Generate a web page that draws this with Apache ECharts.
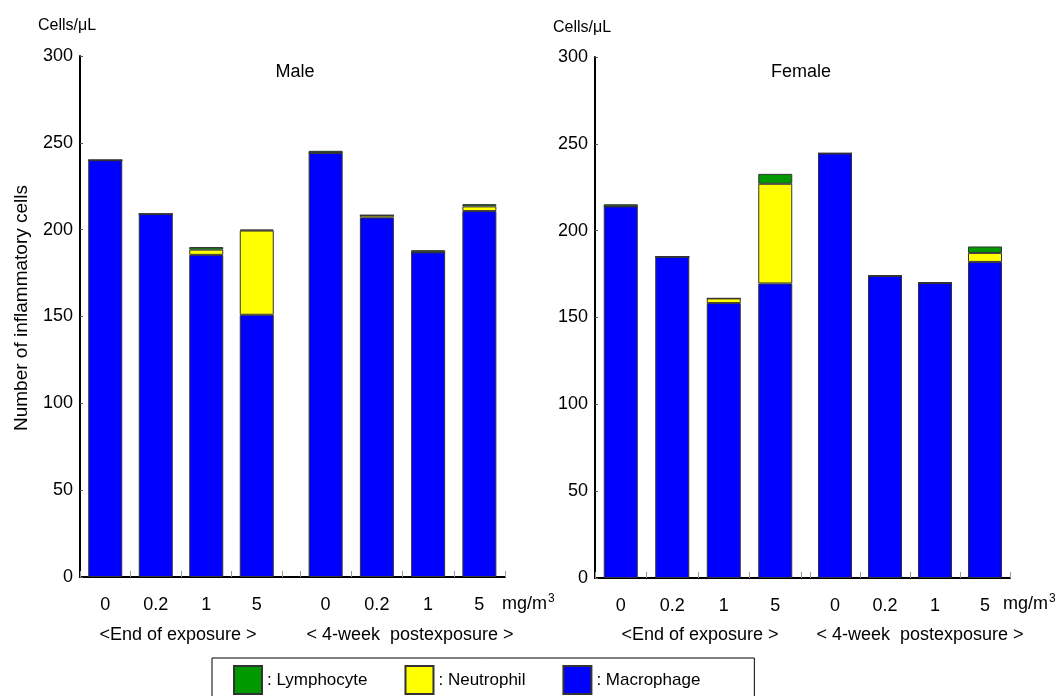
<!DOCTYPE html>
<html>
<head>
<meta charset="utf-8">
<script src="https://cdn.jsdelivr.net/npm/echarts@6/dist/echarts.min.js"></script>
<style>html,body{margin:0;padding:0;background:#fff}#c{width:1058px;height:696px}</style>
</head>
<body>
<div id="c"></div>
<script>
// ---- data ----
const doses = ['0', '0.2', '1', '5'];
const yTicks = [0, 50, 100, 150, 200, 250, 300];
const seriesNames = ['Macrophage', 'Neutrophil', 'Lymphocyte'];
const groupLabels = ['<End of exposure >', '< 4-week  postexposure >'];
const panelTitles = ['Male', 'Female'];

const maleEndMac  = [240, 209, 185.5, 151];
const maleEndNeu  = [0, 0, 3, 48.5];
const maleEndLym  = [0, 0, 1.5, 0.5];
const malePostMac = [244.2, 207, 187, 210.7];
const malePostNeu = [0, 1.3, 0, 2.7];
const malePostLym = [1.2, 0, 1.2, 1.3];

const femEndMac  = [214, 185, 158.3, 169.6];
const femEndNeu  = [0, 0, 2.7, 57.4];
const femEndLym  = [1.2, 0, 0, 5.7];
const femPostMac = [244.5, 174, 170, 182];
const femPostNeu = [0, 0, 0, 5.2];
const femPostLym = [0, 0, 0, 3.7];

// ---- layout ----
const FONT = 'Liberation Sans, Arial, sans-serif';
const colors = { Macrophage: '#0000ff', Neutrophil: '#ffff00', Lymphocyte: '#009a00' };

const grids = [
  { left: 80,  top: 56, width: 202, height: 521 },   // male end
  { left: 282, top: 56, width: 18,  height: 521 },   // male gap
  { left: 300, top: 56, width: 205, height: 521 },   // male post
  { left: 595, top: 57, width: 206, height: 521 },   // female end
  { left: 801, top: 57, width: 9,   height: 521 },   // female gap
  { left: 810, top: 57, width: 200, height: 521 }    // female post
];

const panels = [
  { grid: 0, data: [maleEndMac, maleEndNeu, maleEndLym] },
  { grid: 2, data: [malePostMac, malePostNeu, malePostLym] },
  { grid: 3, data: [femEndMac, femEndNeu, femEndLym] },
  { grid: 5, data: [femPostMac, femPostNeu, femPostLym] }
];

const xAxes = grids.map((g, i) => {
  const isGap = (i === 1 || i === 4);
  return {
    type: 'category', gridIndex: i,
    data: isGap ? [''] : doses,
    boundaryGap: true,
    axisLine: { show: true, lineStyle: { color: '#000', width: 2 } },
    axisTick: { show: !(i === 4), inside: true, length: 6, lineStyle: { color: '#999', width: 1 } },
    axisLabel: { show: !isGap, color: '#000', fontSize: 18, fontFamily: FONT, margin: 19 }
  };
});

const yAxes = grids.map((g, i) => {
  const show = (i === 0 || i === 3);
  return {
    type: 'value', gridIndex: i, min: 0, max: 300, interval: 50,
    show: show,
    splitLine: { show: false },
    axisLine: { show: true, lineStyle: { color: '#000', width: 2 } },
    axisTick: { show: true, inside: true, length: 3, lineStyle: { color: '#555' } },
    axisLabel: { color: '#000', fontSize: 18, fontFamily: FONT, margin: 7 }
  };
});

const series = [];
panels.forEach((p, pi) => {
  seriesNames.forEach((name, si) => {
    series.push({
      type: 'bar', name: name,
      xAxisIndex: p.grid, yAxisIndex: p.grid,
      stack: 'p' + pi,
      barWidth: 34,
      data: p.data[si],
      itemStyle: { color: colors[name], borderColor: '#333', borderWidth: 1 },
      emphasis: { disabled: true }
    });
  });
});

function txt(x, y, text, opts) {
  return {
    type: 'text', x: x, y: y,
    style: Object.assign({ text: text, fill: '#000', font: '18px ' + FONT, textAlign: 'center', textVerticalAlign: 'middle' }, opts || {})
  };
}

const supRich = {
  a: { fontSize: 18, fontFamily: FONT, fill: '#000' },
  s: { fontSize: 12, fontFamily: FONT, fill: '#000', verticalAlign: 'top', padding: [0, 0, 10, 1] }
};

const graphic = [
  txt(67, 26, 'Cells/μL', { font: '16px ' + FONT }),
  txt(582, 28, 'Cells/μL', { font: '16px ' + FONT }),
  txt(295, 72, panelTitles[0]),
  txt(801, 72, panelTitles[1]),
  txt(178, 635, groupLabels[0]),
  txt(410, 635, groupLabels[1]),
  txt(700, 635, groupLabels[0]),
  txt(920, 635, groupLabels[1]),
  { type: 'text', x: 22, y: 308, rotation: Math.PI / 2,
    style: { text: 'Number of inflammatory cells', fill: '#000', font: '19px ' + FONT, textAlign: 'center', textVerticalAlign: 'middle' } },
  { type: 'text', x: 502, y: 604, style: { text: '{a|mg/m}{s|3}', textVerticalAlign: 'middle', rich: supRich } },
  { type: 'text', x: 1003, y: 604, style: { text: '{a|mg/m}{s|3}', textVerticalAlign: 'middle', rich: supRich } }
];

const chart = echarts.init(document.getElementById('c'), null, { renderer: 'canvas' });
chart.setOption({
  animation: false,
  backgroundColor: '#fff',
  grid: grids,
  xAxis: xAxes,
  yAxis: yAxes,
  series: series,
  legend: {
    data: ['Lymphocyte', 'Neutrophil', 'Macrophage'],
    left: 212, top: 658,
    icon: 'rect', itemWidth: 28, itemHeight: 28, itemGap: 37,
    padding: [7, 54, 20, 21],
    borderColor: '#000', borderWidth: 1,
    selectedMode: false,
    formatter: n => ': ' + n,
    textStyle: { fontSize: 17, fontFamily: FONT, color: '#000' }
  },
  graphic: graphic
});
</script>
</body>
</html>
